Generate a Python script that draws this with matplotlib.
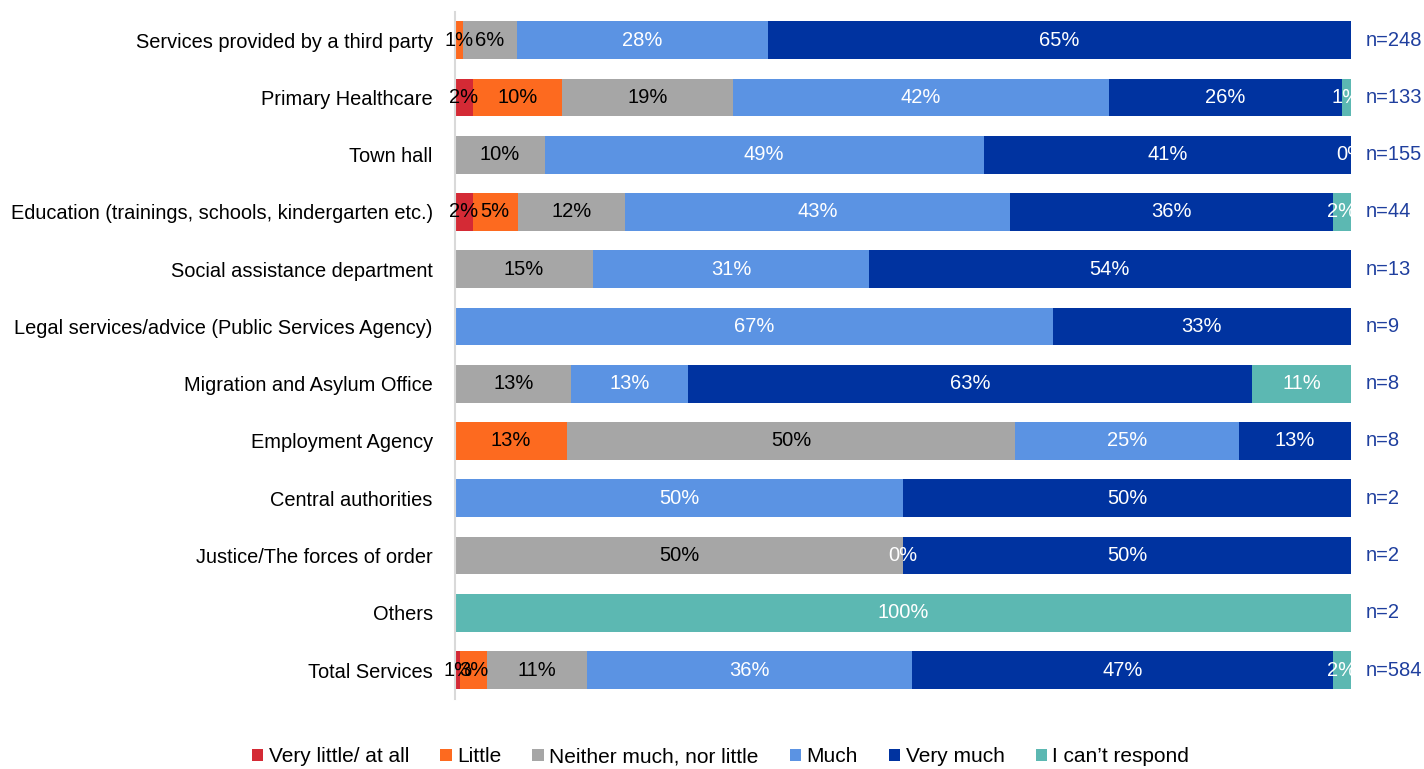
import numpy as np
import matplotlib
matplotlib.use("Agg")
import matplotlib.pyplot as plt
from matplotlib.patches import Patch, Rectangle

plt.rcParams['font.family'] = ['Liberation Sans', 'DejaVu Sans']

# Services, top to bottom
services = [
    "Services provided by a third party",
    "Primary Healthcare",
    "Town hall",
    "Education (trainings, schools, kindergarten etc.)",
    "Social assistance department",
    "Legal services/advice (Public Services Agency)",
    "Migration and Asylum Office",
    "Employment Agency",
    "Central authorities",
    "Justice/The forces of order",
    "Others",
    "Total Services",
]
sample_n = [248, 133, 155, 44, 13, 9, 8, 8, 2, 2, 2, 584]

categories = ["Very little/ at all", "Little", "Neither much, nor little",
              "Much", "Very much", "I can\u2019t respond"]
colors = ["#d42a35", "#fd6a1f", "#a6a6a6", "#5b93e3", "#0033a0", "#5cb8b2"]
text_colors = ["black", "black", "black", "white", "white", "white"]

nan = np.nan
# percent shares per category (nan = not shown)
very_little = [nan, 2, nan, 2, nan, nan, nan, nan, nan, nan, nan, 0.6]
little = [0.9, 10, nan, 5, nan, nan, nan, 12.5, nan, nan, nan, 3.0]
neither = [6.0, 19, 10, 12, 15.4, nan, 13, 50, nan, 50, nan, 11.1]
much = [28.0, 42, 49, 43, 30.8, 66.7, 13, 25, 50, 0, nan, 36.3]
very_much = [65.1, 26, 41, 36, 53.8, 33.3, 63, 12.5, 50, 50, nan, 47.0]
cant_respond = [nan, 1, 0, 2, nan, nan, 11, nan, nan, nan, 100, 2.0]

series = [very_little, little, neither, much, very_much, cant_respond]

fig = plt.figure(figsize=(14.24, 7.69), dpi=100)
ax = fig.add_axes([0.3195, 0.0915, 0.6292, 0.8935])

# labels are cut at the right edge of the plot only
clip_rect = Rectangle((-0.2, -0.05), 1.2, 1.1, transform=ax.transAxes,
                      facecolor="none", edgecolor="none")
ax.add_patch(clip_rect)

y = np.arange(len(services))
left = np.zeros(len(services))
for vals, col, tcol in zip(series, colors, text_colors):
    v = np.array(vals, dtype=float)
    w = np.nan_to_num(v)
    ax.barh(y, w, left=left, height=0.66, color=col, linewidth=0)
    for i, val in enumerate(v):
        if np.isnan(val):
            continue
        t = ax.text(left[i] + w[i] / 2, i, f"{int(val + 0.5)}%", ha="center",
                    va="center", color=tcol, fontsize=14.5)
        t.set_clip_path(clip_rect)
    left += w

for i, n in enumerate(sample_n):
    ax.text(101.6, i, f"n={n}", ha="left", va="center", color="#1f3f9e",
            fontsize=14.5, clip_on=False)

ax.set_xlim(0, 100)
ax.set_ylim(len(services) - 0.5, -0.5)
ax.set_yticks(y)
ax.set_yticklabels(services, fontsize=14.4)
ax.set_xticks([])
ax.tick_params(axis="y", length=0, pad=16)
for s in ["top", "right", "bottom"]:
    ax.spines[s].set_visible(False)
ax.spines["left"].set_color("#d9d9d9")
ax.spines["left"].set_linewidth(1.5)

handles = [Patch(facecolor=c, edgecolor="none") for c in colors]
fig.legend(handles, categories, loc="center", bbox_to_anchor=(0.506, 0.016),
           ncol=6, frameon=False, fontsize=15, handlelength=0.55,
           handleheight=0.55, handletextpad=0.25, columnspacing=1.5)

fig.savefig("out.png", dpi=100)
